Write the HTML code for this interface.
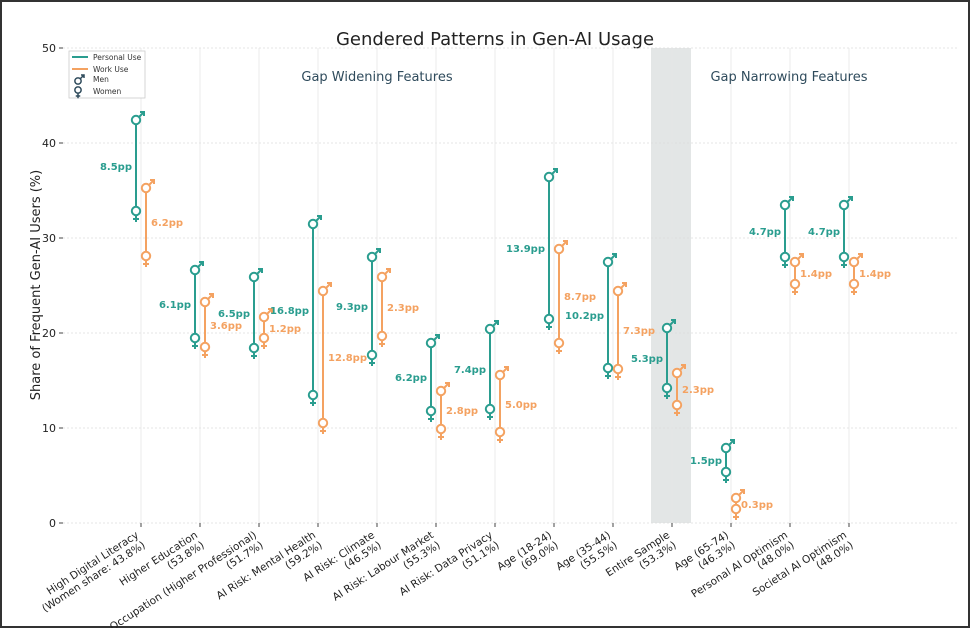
<!DOCTYPE html><html><head><meta charset="utf-8"><style>body{margin:0;background:#fff}svg{display:block}text{font-family:"DejaVu Sans","Liberation Sans",sans-serif}</style></head><body>
<svg width="970" height="628" viewBox="0 0 970 628" xmlns="http://www.w3.org/2000/svg">
<defs>
<g id="m"><path d="M3 -3L8 -8M4 -8H8V-4" fill="none" stroke-width="2"/><circle r="4.2" fill="#fff" stroke-width="2"/></g>
<g id="w"><path d="M0 4V11M-3 8H3" fill="none" stroke-width="2"/><circle r="4.2" fill="#fff" stroke-width="2"/></g>
</defs>
<rect x="1" y="1" width="968" height="626" fill="#fff" stroke="#333" stroke-width="2"/>
<text x="495" y="45" font-size="18" text-anchor="middle" fill="#222">Gendered Patterns in Gen-AI Usage</text>
<rect x="651" y="48" width="40" height="475" fill="#e3e6e6"/>
<g stroke="#ddd" stroke-width="0.8" stroke-dasharray="2,2">
<line x1="63" y1="48" x2="958" y2="48"/><line x1="63" y1="143" x2="958" y2="143"/><line x1="63" y1="238" x2="958" y2="238"/><line x1="63" y1="333" x2="958" y2="333"/><line x1="63" y1="428" x2="958" y2="428"/><line x1="63" y1="523" x2="958" y2="523"/>
</g>
<g stroke="#e6e6e6" stroke-width="0.8">
<line x1="141" y1="48" x2="141" y2="523"/><line x1="200" y1="48" x2="200" y2="523"/><line x1="259" y1="48" x2="259" y2="523"/><line x1="318" y1="48" x2="318" y2="523"/><line x1="377" y1="48" x2="377" y2="523"/><line x1="436" y1="48" x2="436" y2="523"/><line x1="495" y1="48" x2="495" y2="523"/><line x1="554" y1="48" x2="554" y2="523"/><line x1="613" y1="48" x2="613" y2="523"/><line x1="672" y1="48" x2="672" y2="523"/><line x1="731" y1="48" x2="731" y2="523"/><line x1="790" y1="48" x2="790" y2="523"/><line x1="849" y1="48" x2="849" y2="523"/>
</g>
<g stroke="#444"><line x1="141" y1="523" x2="141" y2="527"/><line x1="200" y1="523" x2="200" y2="527"/><line x1="259" y1="523" x2="259" y2="527"/><line x1="318" y1="523" x2="318" y2="527"/><line x1="377" y1="523" x2="377" y2="527"/><line x1="436" y1="523" x2="436" y2="527"/><line x1="495" y1="523" x2="495" y2="527"/><line x1="554" y1="523" x2="554" y2="527"/><line x1="613" y1="523" x2="613" y2="527"/><line x1="672" y1="523" x2="672" y2="527"/><line x1="731" y1="523" x2="731" y2="527"/><line x1="790" y1="523" x2="790" y2="527"/><line x1="849" y1="523" x2="849" y2="527"/>
<line x1="59" y1="48" x2="63" y2="48"/><line x1="59" y1="143" x2="63" y2="143"/><line x1="59" y1="238" x2="63" y2="238"/><line x1="59" y1="333" x2="63" y2="333"/><line x1="59" y1="428" x2="63" y2="428"/><line x1="59" y1="523" x2="63" y2="523"/></g>
<g font-size="11" fill="#222" text-anchor="end"><text x="56" y="52">50</text><text x="56" y="147">40</text><text x="56" y="242">30</text><text x="56" y="337">20</text><text x="56" y="432">10</text><text x="56" y="527">0</text></g>
<text transform="translate(40,285) rotate(-90)" font-size="13" text-anchor="middle" fill="#222">Share of Frequent Gen-AI Users (%)</text>
<text x="377" y="81" font-size="13" text-anchor="middle" fill="#2f4b5c">Gap Widening Features</text>
<text x="789" y="81" font-size="13" text-anchor="middle" fill="#2f4b5c">Gap Narrowing Features</text>

<g stroke="#2a9d8f" stroke-width="2">
<line x1="136" y1="120" x2="136" y2="211"/><line x1="195" y1="270" x2="195" y2="338"/><line x1="254" y1="277" x2="254" y2="348"/><line x1="313" y1="224" x2="313" y2="395"/><line x1="372" y1="257" x2="372" y2="355"/><line x1="431" y1="343" x2="431" y2="411"/><line x1="490" y1="329" x2="490" y2="409"/><line x1="549" y1="177" x2="549" y2="319"/><line x1="608" y1="262" x2="608" y2="368"/><line x1="667" y1="328" x2="667" y2="388"/><line x1="726" y1="448" x2="726" y2="472"/><line x1="785" y1="205" x2="785" y2="257"/><line x1="844" y1="205" x2="844" y2="257"/>
</g>
<g stroke="#f4a261" stroke-width="2">
<line x1="146" y1="188" x2="146" y2="256"/><line x1="205" y1="302" x2="205" y2="347"/><line x1="264" y1="317" x2="264" y2="338"/><line x1="323" y1="291" x2="323" y2="423"/><line x1="382" y1="277" x2="382" y2="336"/><line x1="441" y1="391" x2="441" y2="429"/><line x1="500" y1="375" x2="500" y2="432"/><line x1="559" y1="249" x2="559" y2="343"/><line x1="618" y1="291" x2="618" y2="369"/><line x1="677" y1="373" x2="677" y2="405"/><line x1="736" y1="498" x2="736" y2="509"/><line x1="795" y1="262" x2="795" y2="284"/><line x1="854" y1="262" x2="854" y2="284"/>
</g>
<g stroke="#2a9d8f">
<use href="#m" x="136" y="120"/><use href="#w" x="136" y="211"/>
<use href="#m" x="195" y="270"/><use href="#w" x="195" y="338"/>
<use href="#m" x="254" y="277"/><use href="#w" x="254" y="348"/>
<use href="#m" x="313" y="224"/><use href="#w" x="313" y="395"/>
<use href="#m" x="372" y="257"/><use href="#w" x="372" y="355"/>
<use href="#m" x="431" y="343"/><use href="#w" x="431" y="411"/>
<use href="#m" x="490" y="329"/><use href="#w" x="490" y="409"/>
<use href="#m" x="549" y="177"/><use href="#w" x="549" y="319"/>
<use href="#m" x="608" y="262"/><use href="#w" x="608" y="368"/>
<use href="#m" x="667" y="328"/><use href="#w" x="667" y="388"/>
<use href="#m" x="726" y="448"/><use href="#w" x="726" y="472"/>
<use href="#m" x="785" y="205"/><use href="#w" x="785" y="257"/>
<use href="#m" x="844" y="205"/><use href="#w" x="844" y="257"/>
</g>
<g stroke="#f4a261">
<use href="#m" x="146" y="188"/><use href="#w" x="146" y="256"/>
<use href="#m" x="205" y="302"/><use href="#w" x="205" y="347"/>
<use href="#m" x="264" y="317"/><use href="#w" x="264" y="338"/>
<use href="#m" x="323" y="291"/><use href="#w" x="323" y="423"/>
<use href="#m" x="382" y="277"/><use href="#w" x="382" y="336"/>
<use href="#m" x="441" y="391"/><use href="#w" x="441" y="429"/>
<use href="#m" x="500" y="375"/><use href="#w" x="500" y="432"/>
<use href="#m" x="559" y="249"/><use href="#w" x="559" y="343"/>
<use href="#m" x="618" y="291"/><use href="#w" x="618" y="369"/>
<use href="#m" x="677" y="373"/><use href="#w" x="677" y="405"/>
<use href="#m" x="736" y="498"/><use href="#w" x="736" y="509"/>
<use href="#m" x="795" y="262"/><use href="#w" x="795" y="284"/>
<use href="#m" x="854" y="262"/><use href="#w" x="854" y="284"/>
</g>
<g font-size="10" font-weight="bold" fill="#2a9d8f" text-anchor="end">
<text x="132" y="170">8.5pp</text><text x="191" y="308">6.1pp</text><text x="250" y="317">6.5pp</text><text x="309" y="314">16.8pp</text><text x="368" y="310">9.3pp</text><text x="427" y="381">6.2pp</text><text x="486" y="373">7.4pp</text><text x="545" y="252">13.9pp</text><text x="604" y="319">10.2pp</text><text x="663" y="362">5.3pp</text><text x="722" y="464">1.5pp</text><text x="781" y="235">4.7pp</text><text x="840" y="235">4.7pp</text>
</g>
<g font-size="10" font-weight="bold" fill="#f4a261">
<text x="151" y="226">6.2pp</text><text x="210" y="329">3.6pp</text><text x="269" y="332">1.2pp</text><text x="328" y="361">12.8pp</text><text x="387" y="311">2.3pp</text><text x="446" y="414">2.8pp</text><text x="505" y="408">5.0pp</text><text x="564" y="300">8.7pp</text><text x="623" y="334">7.3pp</text><text x="682" y="393">2.3pp</text><text x="741" y="508">0.3pp</text><text x="800" y="277">1.4pp</text><text x="859" y="277">1.4pp</text>
</g>
<g font-size="10.5" fill="#222" text-anchor="end">
<text transform="translate(135,530) rotate(-33)"><tspan x="0" y="8">High Digital Literacy</tspan><tspan x="0" y="20">(Women share: 43.8%)</tspan></text>
<text transform="translate(194,530) rotate(-33)"><tspan x="0" y="8">Higher Education</tspan><tspan x="0" y="20">(53.8%)</tspan></text>
<text transform="translate(253,530) rotate(-33)"><tspan x="0" y="8">Occupation (Higher Professional)</tspan><tspan x="0" y="20">(51.7%)</tspan></text>
<text transform="translate(312,530) rotate(-33)"><tspan x="0" y="8">AI Risk: Mental Health</tspan><tspan x="0" y="20">(59.2%)</tspan></text>
<text transform="translate(371,530) rotate(-33)"><tspan x="0" y="8">AI Risk: Climate</tspan><tspan x="0" y="20">(46.5%)</tspan></text>
<text transform="translate(430,530) rotate(-33)"><tspan x="0" y="8">AI Risk: Labour Market</tspan><tspan x="0" y="20">(55.3%)</tspan></text>
<text transform="translate(489,530) rotate(-33)"><tspan x="0" y="8">AI Risk: Data Privacy</tspan><tspan x="0" y="20">(51.1%)</tspan></text>
<text transform="translate(548,530) rotate(-33)"><tspan x="0" y="8">Age (18-24)</tspan><tspan x="0" y="20">(69.0%)</tspan></text>
<text transform="translate(607,530) rotate(-33)"><tspan x="0" y="8">Age (35-44)</tspan><tspan x="0" y="20">(55.5%)</tspan></text>
<text transform="translate(666,530) rotate(-33)"><tspan x="0" y="8">Entire Sample</tspan><tspan x="0" y="20">(53.3%)</tspan></text>
<text transform="translate(725,530) rotate(-33)"><tspan x="0" y="8">Age (65-74)</tspan><tspan x="0" y="20">(46.3%)</tspan></text>
<text transform="translate(784,530) rotate(-33)"><tspan x="0" y="8">Personal AI Optimism</tspan><tspan x="0" y="20">(48.0%)</tspan></text>
<text transform="translate(843,530) rotate(-33)"><tspan x="0" y="8">Societal AI Optimism</tspan><tspan x="0" y="20">(48.0%)</tspan></text>
</g>
<rect x="69" y="51" width="76" height="47" fill="#fff" stroke="#ccc" stroke-width="0.8"/>
<line x1="72" y1="57" x2="88" y2="57" stroke="#2a9d8f" stroke-width="2"/><text x="93" y="60" font-size="7.5" fill="#333">Personal Use</text>
<line x1="72" y1="69" x2="88" y2="69" stroke="#f4a261" stroke-width="2"/><text x="93" y="72" font-size="7.5" fill="#333">Work Use</text>
<g stroke="#2f4b5c" transform="translate(78,81) scale(0.75)"><use href="#m"/></g><text x="93" y="82" font-size="7.5" fill="#333">Men</text>
<g stroke="#2f4b5c" transform="translate(78,90) scale(0.75)"><use href="#w"/></g><text x="93" y="94" font-size="7.5" fill="#333">Women</text>
</svg></body></html>
